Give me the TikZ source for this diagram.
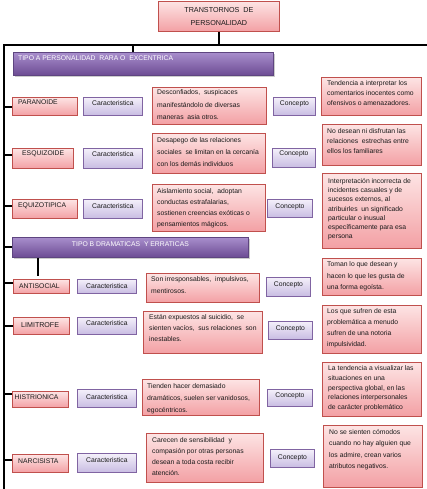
\documentclass[tikz,border=0pt]{standalone}
\usepackage{fontspec}
\setmainfont{Liberation Sans}
\usetikzlibrary{shadows}
\definecolor{pinkTop}{HTML}{FDE4E4}
\definecolor{pinkBot}{HTML}{F3A0A4}
\definecolor{pinkBorder}{HTML}{C0504D}
\definecolor{lavTop}{HTML}{F4F0FA}
\definecolor{lavBot}{HTML}{C8BCE2}
\definecolor{lavBorder}{HTML}{8064A2}
\definecolor{purTop}{HTML}{A88ECC}
\definecolor{purBot}{HTML}{6C4B93}
\definecolor{purBorder}{HTML}{5E4580}
\definecolor{txtcol}{HTML}{1A1A1A}
\tikzset{
  boxbase/.style={anchor=north west, inner sep=0pt, line width=0.8pt},
  smallshadow/.style={drop shadow={shadow xshift=1pt, shadow yshift=-1pt, opacity=0.3}},
  pinkbox/.style={boxbase, smallshadow, draw=pinkBorder, top color=pinkTop, bottom color=pinkBot},
  lavbox/.style={boxbase, smallshadow, draw=lavBorder, top color=lavTop, bottom color=lavBot},
  purbox/.style={boxbase, draw=purBorder, top color=purTop, bottom color=purBot,
     drop shadow={shadow xshift=1.5pt, shadow yshift=-2pt, opacity=0.4}},
  txt/.style={inner sep=0pt, anchor=north west, align=left, text=txtcol, font=\fontsize{6.8}{10}\selectfont},
  ls/.style={font=\fontsize{6.8}{#1}\selectfont},
  conn/.style={line width=2pt, black},
}
\newcommand\myTbox[7]{%
  \node[#2, minimum width=#4pt, minimum height=#5pt] (#1) at #3 {};
  \node[txt, #6] (#1-t) at (#1.north west) {#7};}
\newcommand\myCbox[7]{%
  \node[#2, minimum width=#4pt, minimum height=#5pt] (#1) at #3 {};
  \node[txt, anchor=north, align=center, #6] (#1-t) at (#1.north) {#7};}
\begin{document}
\begin{tikzpicture}[x=1pt, y=-1pt]
\fill[white] (0,0) rectangle (426,489);
\useasboundingbox (0,0) rectangle (426,489);

% title
\node[pinkbox, minimum width=121pt, minimum height=30pt, align=center, text=txtcol,
      font=\fontsize{7.2}{12.3}\selectfont] (title) at (158,1) {TRANSTORNOS\ \ DE\\PERSONALIDAD};

% group headers
\myTbox{tipoA}{purbox}{(13,52)}{260}{23}{text=white, xshift=5pt, yshift=-4pt}{TIPO A PERSONALIDAD\ \ RARA O\ \ EXCENTRICA}
\myCbox{tipoB}{purbox}{(12,237)}{236}{20}{text=white, yshift=-4.4pt}{TIPO B DRAMATICAS\ \ Y ERRATICAS}

% row 1
\myTbox{p1}{pinkbox}{(12,97)}{65}{18}{xshift=6pt, yshift=-3pt}{PARANOIDE}
\myCbox{c1}{lavbox}{(83,97)}{59}{18}{yshift=-3.6pt}{Caracteristica}
\myTbox{d1}{pinkbox}{(152,87)}{114}{37}{xshift=5pt, yshift=-2.4pt, ls=12.5}{Desconfiados,\ \ suspicaces\\manifestándolo de diversas\\maneras\ \ asia otros.}
\myCbox{k1}{lavbox}{(273,97)}{42}{18}{yshift=-3.6pt}{Concepto}
\myTbox{f1}{pinkbox}{(321,77)}{100}{38}{xshift=6pt, yshift=-3.8pt, ls=10}{Tendencia a interpretar los\\comentarios inocentes como\\ofensivos o amenazadores.}

% row 2
\myTbox{p2}{pinkbox}{(12,148)}{61}{20}{xshift=10pt, yshift=-3pt}{ESQUIZOIDE}
\myCbox{c2}{lavbox}{(83,148)}{59}{20}{yshift=-3pt}{Caracteristica}
\myTbox{d2}{pinkbox}{(152,133)}{113}{40}{xshift=5pt, yshift=-4.5pt, ls=11.7}{Desapego de las relaciones\\sociales\ \ se limitan en la cercanía\\con los demás individuos}
\myCbox{k2}{lavbox}{(272,148)}{43}{19}{yshift=-3pt}{Concepto}
\myTbox{f2}{pinkbox}{(322,124)}{99}{41}{xshift=5pt, yshift=-4.5pt, ls=9.8}{No desean ni disfrutan las\\relaciones\ \ estrechas entre\\ellos los familiares}

% row 3
\myTbox{p3}{pinkbox}{(12,199)}{65}{19}{xshift=6pt, yshift=-3.6pt}{EQUIZOTIPICA}
\myCbox{c3}{lavbox}{(83,199)}{59}{19}{yshift=-4.3pt}{Caracteristica}
\myTbox{d3}{pinkbox}{(152,184)}{113}{47}{xshift=5pt, yshift=-4.5pt, ls=10.8}{Aislamiento social,\ \ adoptan\\conductas estrafalarias,\\sostienen creencias exóticas o\\pensamientos mágicos.}
\myCbox{k3}{lavbox}{(267,199)}{45}{18}{yshift=-4.6pt}{Concepto}
\myTbox{f3}{pinkbox}{(322,173)}{99}{75}{xshift=6pt, yshift=-4.9pt, ls=9.3}{Interpretación incorrecta de\\incidentes casuales y de\\sucesos externos, al\\atribuirles\ \ un significado\\particular o inusual\\específicamente para esa\\persona}

% row 4
\myTbox{p4}{pinkbox}{(13,279)}{56}{14}{xshift=6pt, yshift=-4.6pt}{ANTISOCIAL}
\myCbox{c4}{lavbox}{(77,279)}{59}{14}{yshift=-4.6pt}{Caracteristica}
\myTbox{d4}{pinkbox}{(146,273)}{113}{29}{xshift=5pt, yshift=-3.8pt, ls=11.3}{Son irresponsables,\ \ impulsivos,\\mentirosos.}
\myCbox{k4}{lavbox}{(266,277)}{44}{19}{yshift=-4.6pt}{Concepto}
\myTbox{f4}{pinkbox}{(322,258)}{99}{37}{xshift=5pt, yshift=-3.8pt, ls=11.2}{Toman lo que desean y\\hacen lo que les gusta de\\una forma egoísta.}

% row 5
\myTbox{p5}{pinkbox}{(13,317)}{56}{17}{xshift=8pt, yshift=-5.2pt, font=\fontsize{7.1}{9}\selectfont}{LIMITROFE}
\myCbox{c5}{lavbox}{(77,317)}{59}{17}{yshift=-3.3pt}{Caracteristica}
\myTbox{d5}{pinkbox}{(143,311)}{119}{42}{xshift=6pt, yshift=-3.7pt, ls=10.7}{Están expuestos al suicidio,\ \ se\\sienten vacíos,\ \ sus relaciones\ \ son\\inestables.}
\myCbox{k5}{lavbox}{(268,321)}{44}{18}{yshift=-4.9pt}{Concepto}
\myTbox{f5}{pinkbox}{(322,305)}{99}{48}{xshift=5pt, yshift=-3.5pt, ls=11.1}{Los que sufren de esta\\problemática a menudo\\sufren de una notoria\\impulsividad.}

% row 6
\myTbox{f6}{pinkbox}{(322,362)}{99}{54}{xshift=6pt, yshift=-3.8pt, ls=9.6}{La tendencia a visualizar las\\situaciones en una\\perspectiva global, en las\\relaciones interpersonales\\de carácter problemático}
\myTbox{p6}{pinkbox}{(12,391)}{56}{16}{xshift=2.5pt, yshift=-3.3pt}{HISTRIONICA}
\myCbox{c6}{lavbox}{(77,389)}{59}{18}{yshift=-5.3pt}{Caracteristica}
\myTbox{d6}{pinkbox}{(142,379)}{117}{36}{xshift=5pt, yshift=-4.5pt, ls=11.7}{Tienden hacer demasiado\\dramáticos, suelen ser vanidosos,\\egocéntricos.}
\myCbox{k6}{lavbox}{(267,389)}{45}{17}{yshift=-3.6pt}{Concepto}

% row 7
\myTbox{p7}{pinkbox}{(12,454)}{56}{18}{xshift=6pt, yshift=-4.2pt}{NARCISISTA}
\myCbox{c7}{lavbox}{(77,453)}{59}{19}{yshift=-3.9pt}{Caracteristica}
\myTbox{d7}{pinkbox}{(146,433)}{117}{49}{xshift=6pt, yshift=-4.5pt, ls=11.1}{Carecen de sensibilidad\ \ y\\compasión por otras personas\\desean a toda costa recibir\\atención.}
\myCbox{k7}{lavbox}{(270,449)}{44}{18}{yshift=-5.3pt}{Concepto}
\myTbox{f7}{pinkbox}{(323,425)}{99}{62}{xshift=6pt, yshift=-4.2pt, ls=11.3}{No se sienten cómodos\\cuando no hay alguien que\\los admire, crean varios\\atributos negativos.}

% connectors
\coordinate (hl) at (4,45);
\coordinate (hr) at (427,45);
\coordinate (vb) at (4,490);
\coordinate (bstub) at (38,276);
\draw[conn] (title.south) -- (title.south |- hl);
\draw[conn] (hr) -- (hl) -- (vb);
\draw[conn] ([xshift=120pt]tipoA.north west |- hl) -- ([xshift=120pt]tipoA.north west);
\draw[conn] (tipoB.west -| hl) -- (tipoB.west);
\draw[conn] (bstub |- tipoB.south) -- (bstub);
\draw[conn] ([yshift=-1pt]p1.west -| hl) -- ([yshift=-1pt]p1.west);
\draw[conn] ([yshift=3pt]p2.west -| hl) -- ([yshift=3pt]p2.west);
\draw[conn] ([yshift=3pt]p3.west -| hl) -- ([yshift=3pt]p3.west);
\draw[conn] ([yshift=3pt]p4.west -| hl) -- ([yshift=3pt]p4.west);
\draw[conn] (p5.west -| hl) -- (p5.west);
\draw[conn] ([yshift=5pt]p6.west -| hl) -- ([yshift=5pt]p6.west);
\draw[conn] ([yshift=3pt]p7.west -| hl) -- ([yshift=3pt]p7.west);
\end{tikzpicture}
\end{document}
